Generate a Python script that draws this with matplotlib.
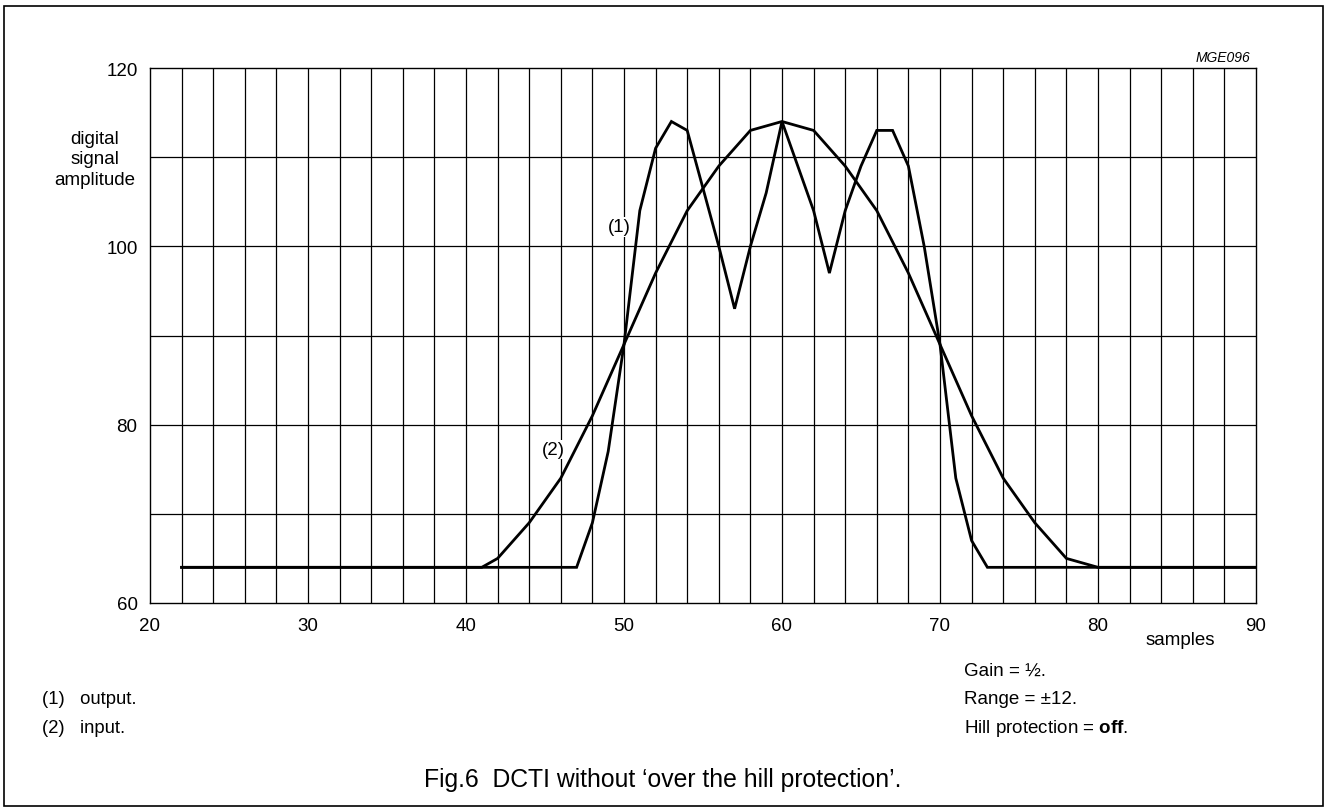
import matplotlib
matplotlib.use("Agg")
import matplotlib.pyplot as plt
from matplotlib.patches import Rectangle

plt.rcParams['font.family'] = ['Liberation Sans', 'DejaVu Sans']
plt.rcParams['mathtext.fontset'] = 'custom'
plt.rcParams['mathtext.rm'] = 'Liberation Sans'
plt.rcParams['mathtext.bf'] = 'Liberation Sans:bold'

# (1) output
out_x = [22, 47, 48, 49, 50, 51, 52, 53, 54, 55, 56, 57, 58, 59, 60, 61, 62,
         63, 64, 65, 66, 67, 68, 69, 70, 71, 72, 73, 90]
out_y = [64, 64, 69, 77, 89, 104, 111, 114, 113, 106.5, 100, 93, 100, 106, 114, 109, 104,
         97, 104, 109, 113, 113, 109, 100, 89, 74, 67, 64, 64]

# (2) input
in_x = [22, 41, 42, 44, 46, 48, 50, 52, 54, 56, 58, 60, 62, 64, 66, 68, 70,
        72, 74, 76, 78, 80, 90]
in_y = [64, 64, 65, 69, 74, 81, 89, 97, 104, 109, 113, 114, 113, 109, 104, 97, 89,
        81, 74, 69, 65, 64, 64]

x_ticks = [20, 30, 40, 50, 60, 70, 80, 90]
y_ticks = [60, 80, 100, 120]

W, H = 1326, 812
fig = plt.figure(figsize=(W / 100, H / 100), dpi=100)


def fx(px):
    return px / W


def fy(py):
    return 1 - py / H


ax = fig.add_axes([fx(150), fy(604), fx(1256) - fx(150), fy(69) - fy(604)])
ax.set_xlim(20, 90)
ax.set_ylim(60, 120)

for gx in range(22, 90, 2):
    ax.axvline(gx, color='black', lw=0.9, zorder=1)
for gy in range(70, 120, 10):
    ax.axhline(gy, color='black', lw=0.9, zorder=1)
for s in ax.spines.values():
    s.set_linewidth(1.0)

ax.plot(out_x, out_y, color='black', lw=2.0, zorder=3, solid_joinstyle='miter')
ax.plot(in_x, in_y, color='black', lw=2.0, zorder=3, solid_joinstyle='miter')

ax.set_xticks(x_ticks)
ax.set_yticks(y_ticks)
ax.tick_params(length=0, labelsize=13.5)
ax.tick_params(axis='x', pad=10)
ax.tick_params(axis='y', pad=9)

ax.text(49.7, 102.2, '(1)', fontsize=13.5, ha='center', va='center',
        bbox=dict(facecolor='white', edgecolor='none', pad=1))
ax.text(45.5, 77.2, '(2)', fontsize=13.5, ha='center', va='center',
        bbox=dict(facecolor='white', edgecolor='none', pad=1))

fig.text(fx(95), fy(160), 'digital\nsignal\namplitude', fontsize=13.5,
         ha='center', va='center', linespacing=1.25)
fig.text(fx(1180), fy(641), 'samples', fontsize=13.5, ha='center', va='center')
fig.text(fx(1250), fy(62), 'MGE096', fontsize=10, style='italic', ha='right', va='baseline')

fig.text(fx(42), fy(704), '(1)   output.', fontsize=13.3, ha='left', va='baseline')
fig.text(fx(42), fy(733), '(2)   input.', fontsize=13.3, ha='left', va='baseline')

fig.text(fx(964), fy(676), 'Gain = ½.', fontsize=13.5, ha='left', va='baseline')
fig.text(fx(964), fy(704), 'Range = ±12.', fontsize=13.5, ha='left', va='baseline')
fig.text(fx(964), fy(733), r'Hill protection = $\mathbf{off}$.', fontsize=13.5,
         ha='left', va='baseline')

fig.text(fx(663), fy(787), 'Fig.6  DCTI without \u2018over the hill protection\u2019.',
         fontsize=17.8, ha='center', va='baseline')

fig.patches.append(Rectangle((fx(4), fy(807)), fx(1323) - fx(4), fy(7) - fy(807),
                             transform=fig.transFigure, fill=False,
                             edgecolor='black', lw=1.2))

fig.savefig('out.png', dpi=100)
